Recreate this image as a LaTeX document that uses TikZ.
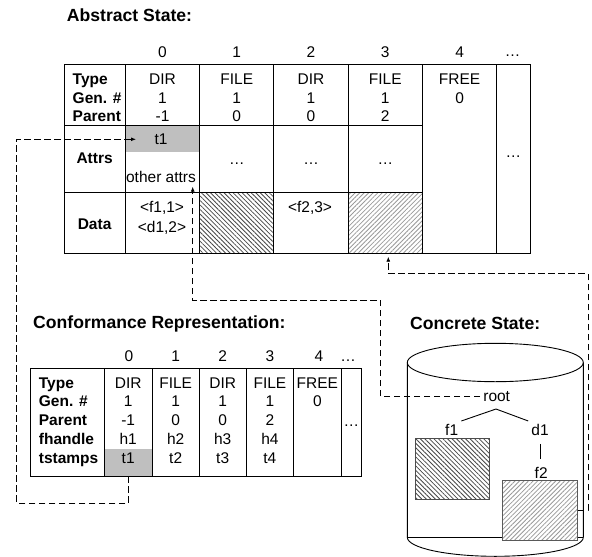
\documentclass[tikz,border=0pt]{standalone}
\usepackage{fontspec}
\setmainfont{Liberation Sans}
\usetikzlibrary{arrows.meta,patterns.meta}

\begin{document}
\begin{tikzpicture}[x=1pt,y=-1pt,
        txt/.style={anchor=base,inner sep=0pt,font=\fontsize{15.5}{18}\selectfont},
        lbl/.style={txt,anchor=base west,font=\fontsize{15.5}{18}\selectfont\bfseries},
        ttl/.style={anchor=base west,inner sep=0pt,font=\fontsize{17.6}{20}\selectfont\bfseries},
        treelbl/.style={txt,inner sep=3pt},
        grid/.style={line width=0.9pt},
        darkhatch/.style={pattern={Lines[angle=-45,distance=3.2pt,line width=0.8pt]},pattern color=black!72},
        lighthatch/.style={pattern={Lines[angle=45,distance=3.2pt,line width=0.8pt]},pattern color=black!40},
        link/.style={line width=0.9pt,dash pattern=on 6.5pt off 3.5pt,-{Latex[length=5pt,width=4pt]}}]
    \useasboundingbox (0,0) rectangle (592,557);

    %%abstract state
    \node[ttl] (absTitle) at (66.7,21) {Abstract State:};
        %%the cells that are filled
        \fill[gray!50] (125.3,125.5) rectangle (199.6,151.7);
        \fill[darkhatch] (199.6,192.5) rectangle (273.9,253.3);
        \fill[lighthatch] (348.2,192.5) rectangle (422.5,253.3);
        %%draw the grid
        \draw[grid] (64,64.5) rectangle (530,253.3);
        \draw[grid] (64,125.5) -- (422.5,125.5);
        \draw[grid] (64,192.5) -- (422.5,192.5);
        \draw[grid] (125.3,64.5) -- (125.3,253.3);
        \draw[grid] (199.6,64.5) -- (199.6,253.3);
        \draw[grid] (273.9,64.5) -- (273.9,253.3);
        \draw[grid] (348.2,64.5) -- (348.2,253.3);
        \draw[grid] (422.5,64.5) -- (422.5,253.3);
        \draw[grid] (496.8,64.5) -- (496.8,253.3);
    %%the elements above the columns
    \node[txt] (ah0) at (162.5,57){0};
    \node[txt] (ah1) at (236.8,57){1};
    \node[txt] (ah2) at (311,57){2};
    \node[txt] (ah3) at (385.3,57){3};
    \node[txt] (ah4) at (459.6,57){4};
    \node[txt] (ah5) at (512.5,56){…};
    %%the rows
    \node[lbl] (aType) at (72.5,84.5){Type};
    \node[lbl] (aGen) at (72.5,103){Gen. \#};
    \node[lbl] (aParent) at (72.5,121.5){Parent};
    \node[txt,font=\fontsize{15.5}{18}\selectfont\bfseries] (aAttrs) at (94.6,163.7){Attrs};
    \node[txt,font=\fontsize{15.5}{18}\selectfont\bfseries] (aData) at (94.6,229.4){Data};
        \node[txt] (aDir0) at (162.5,84.5){DIR};
        \node[txt] (aGen0) at (162.5,103){1};
        \node[txt] (aPar0) at (162.5,121.5){-1};
        \node[txt] (aT1) at (161,144.7){t1};
        \node[txt] (aOther) at (161,182.7){other attrs};
        \node[txt] (aF1) at (162,212.7){<f1,1>};
        \node[txt] (aD1) at (162,232.7){<d1,2>};

        \node[txt] (aFile1) at (236.8,84.5){FILE};
        \node[txt] (aGen1) at (236.8,103){1};
        \node[txt] (aPar1) at (236.8,121.5){0};
        \node[txt] (aAt1) at (236.8,164.5){…};

        \node[txt] (aDir2) at (311,84.5){DIR};
        \node[txt] (aGen2) at (311,103){1};
        \node[txt] (aPar2) at (311,121.5){0};
        \node[txt] (aAt2) at (311,164.5){…};
        \node[txt] (aF2) at (310,212.7){<f2,3>};

        \node[txt] (aFile3) at (385.3,84.5){FILE};
        \node[txt] (aGen3) at (385.3,103){1};
        \node[txt] (aPar3) at (385.3,121.5){2};
        \node[txt] (aAt3) at (385.3,164.5){…};

        \node[txt] (aFree4) at (459.6,84.5){FREE};
        \node[txt] (aGen4) at (459.6,103){0};

        \node[txt] (aMore) at (513.4,157.5){…};

    %%conformance representation
    \node[ttl] (confTitle) at (33,328.8) {Conformance Representation:};
        \node[fill=gray!50,minimum width=47.7,minimum height=27.3,inner sep=0pt] (cts0) at (128.15,462.35){};
        \draw[grid] (30,368.3) rectangle (361.7,476);
        \draw[grid] (104.3,368.3) -- (104.3,476);
        \draw[grid] (152,368.3) -- (152,476);
        \draw[grid] (199.3,368.3) -- (199.3,476);
        \draw[grid] (246,368.3) -- (246,476);
        \draw[grid] (293.7,368.3) -- (293.7,476);
        \draw[grid] (341,368.3) -- (341,476);
    \node[txt] (ch0) at (129,361.4){0};
    \node[txt] (ch1) at (175.7,361.4){1};
    \node[txt] (ch2) at (222.7,361.4){2};
    \node[txt] (ch3) at (269.9,361.4){3};
    \node[txt] (ch4) at (319,361.4){4};
    \node[txt] (ch5) at (348,361.4){…};
    \node[lbl] (cType) at (38.7,388){Type};
    \node[lbl] (cGen) at (38.7,406.8){Gen. \#};
    \node[lbl] (cParent) at (38.7,425.6){Parent};
    \node[lbl] (cHandle) at (38.7,444.4){fhandle};
    \node[lbl] (cStamps) at (38.7,463.2){tstamps};
        \node[txt] (cDir0) at (128.2,388){DIR};
        \node[txt] (cGen0) at (128.2,406.8){1};
        \node[txt] (cPar0) at (128.2,425.6){-1};
        \node[txt] (cH0) at (128.2,444.4){h1};
        \node[txt] (cT0) at (128.2,463.2){t1};

        \node[txt] (cFile1) at (175.7,388){FILE};
        \node[txt] (cGen1) at (175.7,406.8){1};
        \node[txt] (cPar1) at (175.7,425.6){0};
        \node[txt] (cH1) at (175.7,444.4){h2};
        \node[txt] (cT1) at (175.7,463.2){t2};

        \node[txt] (cDir2) at (222.7,388){DIR};
        \node[txt] (cGen2) at (222.7,406.8){1};
        \node[txt] (cPar2) at (222.7,425.6){0};
        \node[txt] (cH2) at (222.7,444.4){h3};
        \node[txt] (cT2) at (222.7,463.2){t3};

        \node[txt] (cFile3) at (269.9,388){FILE};
        \node[txt] (cGen3) at (269.9,406.8){1};
        \node[txt] (cPar3) at (269.9,425.6){2};
        \node[txt] (cH3) at (269.9,444.4){h4};
        \node[txt] (cT3) at (269.9,463.2){t4};

        \node[txt] (cFree4) at (317.4,388){FREE};
        \node[txt] (cGen4) at (317.4,406.8){0};

        \node[txt] (cMore) at (351.4,426.8){…};

    %%concrete state
    \node[ttl] (concTitle) at (410,329.4) {Concrete State:};
        %%the disk
        \draw[grid] (495.3,362.5) ellipse [x radius=88,y radius=19.2];
        \draw[grid] (407.3,362.5) -- (407.3,537.3) arc [start angle=180,end angle=0,x radius=88,y radius=19] -- (583.3,362.5);
        \draw[grid] (407.3,537.3) -- (583.3,537.3);
        \node[draw=black!70,line width=0.9pt,darkhatch,preaction={fill=white},minimum width=74.3,minimum height=61,inner sep=0pt] (f1box) at (452.2,468.8){};
        \node[draw=black!65,line width=0.9pt,lighthatch,preaction={fill=white},minimum width=74.6,minimum height=60,inner sep=0pt] (f2box) at (540,510){};
        %%the tree
        \node[treelbl] (root) at (496.7,401.5){root};
        \node[treelbl] (f1) at (451.7,435.4){f1};
        \node[treelbl] (d1) at (540,435.4){d1};
        \node[treelbl] (f2) at (541.2,478.7){f2};
        \coordinate (fork) at (496,409);
        \draw[line width=0.9pt] (f1.north east) -- (fork) -- (d1.north west);
        \draw[line width=0.9pt,shorten <=5pt,shorten >=5pt] (d1.south) -- (d1.south |- f2.north);

    %%the dashed links
    \coordinate (tipT) at (136,139.3);
    \coordinate (tipO) at (192.7,186.7);
    \coordinate (tipD) at (388.3,256.7);
    \draw[link] (cts0.south) |- (16.7,503.3) |- (tipT);
    \draw[link] (root.west) -| (380.5,300) -| (tipO);
    \draw[link] (f2box.east) -| (588,273.3) -| (tipD);
\end{tikzpicture}
\end{document}
